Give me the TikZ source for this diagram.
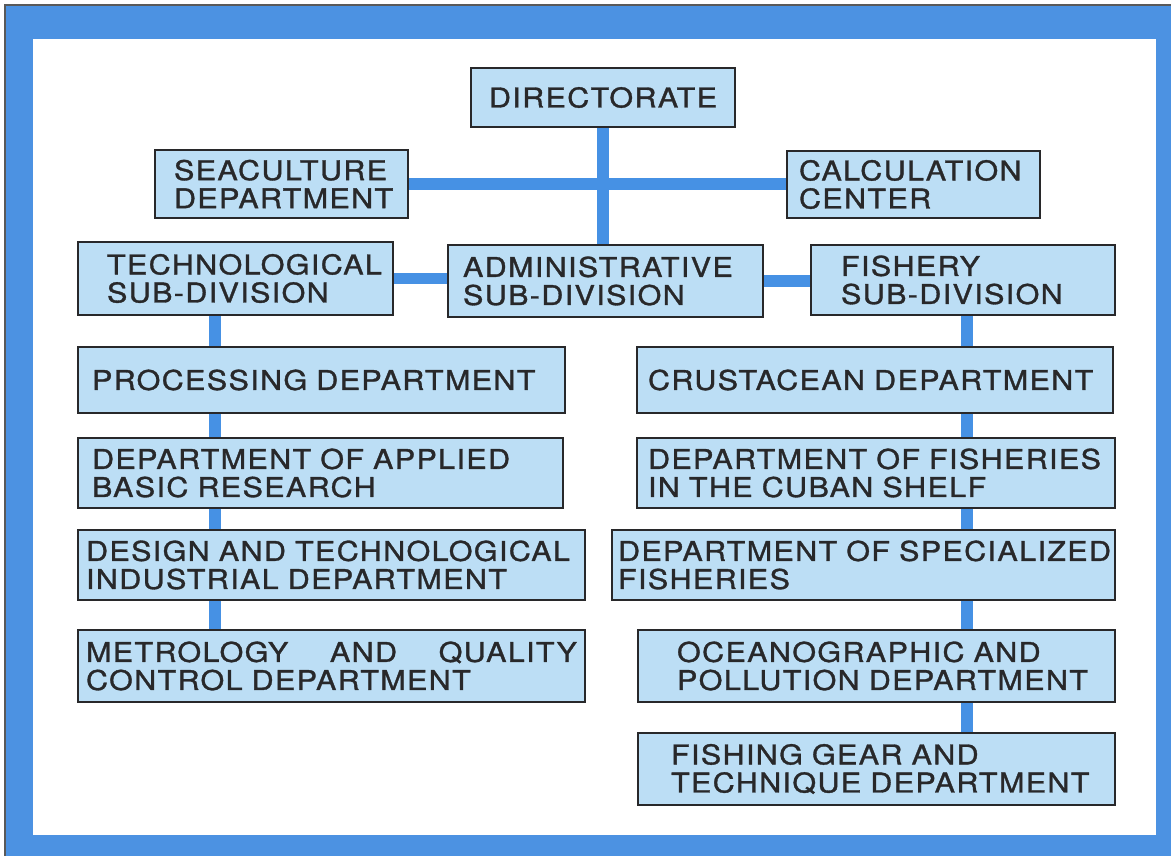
\documentclass[tikz,border=0pt]{standalone}
\usepackage{fontspec}
\newfontfamily\orgfont{TeX Gyre Heros}[FakeStretch=1.12, LetterSpace=5, FakeBold=1.2]
\hyphenpenalty=10000
\exhyphenpenalty=10000
\definecolor{frameblue}{RGB}{76,146,226}
\definecolor{linkblue}{RGB}{70,145,228}
\definecolor{boxfill}{RGB}{188,222,245}
\definecolor{boxline}{RGB}{40,40,42}
\tikzset{
	dept/.style={draw=boxline, line width=1.2pt, fill=boxfill, align=left, inner ysep=0pt, text=boxline, font=\orgfont\fontsize{15.5}{16}\selectfont},
	link/.style={draw=linkblue, line width=6.5pt},
}

\begin{document}
\begin{tikzpicture}[x=0.02cm, y=-0.02cm]
				\useasboundingbox (0,0) rectangle (1171,856);
				\fill[frameblue] (6,6) rectangle (1171,856);
				\fill[white] (33,39) rectangle (1156,835);
				\draw[gray!70!black, line width=0.6pt] (5,856) -- (5,5) -- (1171,5);
				\node[dept, align=center, text width=4.88cm, inner xsep=0.2cm, minimum height=1.18cm] (dir)at(603, 97.5) {DIRECTORATE};
				\node[dept, text width=4.30cm, inner xsep=0.38cm, minimum height=1.36cm] (sea)at(281.5, 184) {SEACULTURE\\DEPARTMENT};
				\node[dept, text width=4.58cm, inner xsep=0.24cm, minimum height=1.34cm] (calc)at(913.5, 184.5) {CALCULATION\\CENTER};
				\node[dept, text width=5.14cm, inner xsep=0.58cm, minimum height=1.46cm] (tech)at(235.5, 278.5) {TECHNOLOGICAL\\SUB-DIVISION};
				\node[dept, text width=5.70cm, inner xsep=0.30cm, minimum height=1.44cm] (adm)at(605.5, 281) {ADMINISTRATIVE\\SUB-DIVISION};
				\node[dept, text width=4.88cm, inner xsep=0.60cm, minimum height=1.40cm] (fish)at(963, 280) {FISHERY\\SUB-DIVISION};
				\node[dept, text width=9.18cm, inner xsep=0.28cm, minimum height=1.32cm] (proc)at(321.5, 380) {PROCESSING~DEPARTMENT};
				\node[dept, text width=9.14cm, inner xsep=0.28cm, minimum height=1.40cm] (appl)at(320.5, 473) {DEPARTMENT~OF~APPLIED\\BASIC~RESEARCH};
				\node[dept, text width=9.82cm, inner xsep=0.16cm, minimum height=1.40cm] (desi)at(331.5, 565) {DESIGN~AND~TECHNOLOGICAL\\INDUSTRIAL~DEPARTMENT};
				\node[dept, text width=9.82cm, inner xsep=0.16cm, minimum height=1.44cm] (metr)at(331.5, 666) {METROLOGY\hfill AND\hfill QUALITY\\CONTROL~DEPARTMENT};
				\node[dept, text width=9.08cm, inner xsep=0.22cm, minimum height=1.32cm] (crus)at(875, 380) {CRUSTACEAN~DEPARTMENT};
				\node[dept, text width=9.12cm, inner xsep=0.22cm, minimum height=1.40cm] (cuba)at(876, 473) {DEPARTMENT~OF~FISHERIES\\IN~THE~CUBAN~SHELF};
				\node[dept, text width=9.82cm, inner xsep=0.12cm, minimum height=1.40cm] (spec)at(863.5, 565) {DEPARTMENT~OF~SPECIALIZED\\FISHERIES};
				\node[dept, text width=7.98cm, inner xsep=0.78cm, minimum height=1.44cm] (ocea)at(876.5, 666) {OCEANOGRAPHIC~AND\\POLLUTION~DEPARTMENT};
				\node[dept, text width=8.22cm, inner xsep=0.66cm, minimum height=1.44cm] (gear)at(876.5, 769) {FISHING~GEAR~AND\\TECHNIQUE~DEPARTMENT};
				\coordinate (lsp)at(215, 0);
				\coordinate (rsp)at(967, 0);
				\draw[link] (dir.south) -- (dir.south |- adm.north);
				\draw[link] (sea.east) -- (sea.east -| calc.west);
				\draw[link] (tech.east) -- (tech.east -| adm.west);
				\draw[link] (adm.east) -- (adm.east -| fish.west);
				\foreach \a/\b in {tech/proc, proc/appl, appl/desi, desi/metr}
					\draw[link] (\a.south -| lsp) -- (\b.north -| lsp);
				\foreach \a/\b in {fish/crus, crus/cuba, cuba/spec, spec/ocea, ocea/gear}
					\draw[link] (\a.south -| rsp) -- (\b.north -| rsp);
			\end{tikzpicture}
\end{document}
